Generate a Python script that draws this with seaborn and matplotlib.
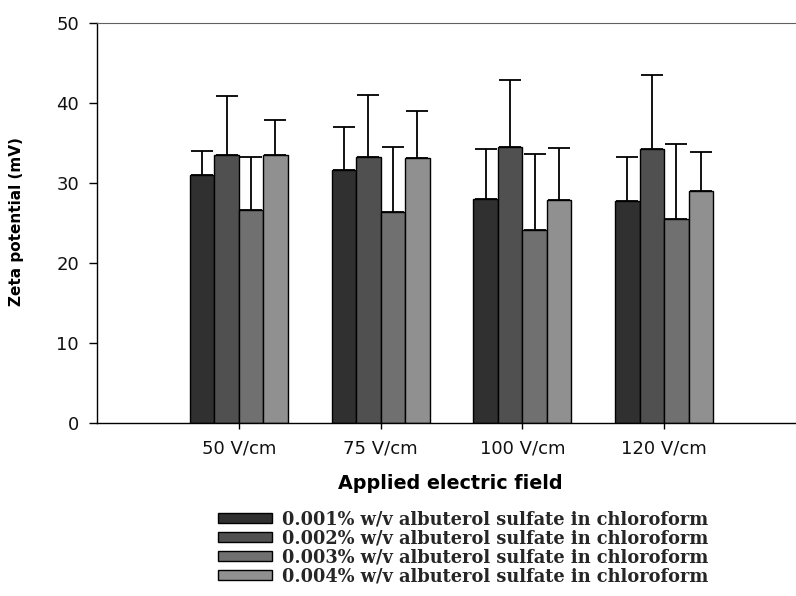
import numpy as np
import pandas as pd
import matplotlib
matplotlib.use("Agg")
import matplotlib.pyplot as plt
import seaborn as sns

fields = ["50 V/cm", "75 V/cm", "100 V/cm", "120 V/cm"]
concs = ["0.001% w/v albuterol sulfate in chloroform",
         "0.002% w/v albuterol sulfate in chloroform",
         "0.003% w/v albuterol sulfate in chloroform",
         "0.004% w/v albuterol sulfate in chloroform"]
# mean zeta potential (mV), one list per concentration, in field order
mean_001 = [30.9, 31.6, 28.0, 27.7]
mean_002 = [33.5, 33.2, 34.5, 34.2]
mean_003 = [26.6, 26.3, 24.1, 25.5]
mean_004 = [33.4, 33.1, 27.8, 28.9]
# standard deviation (upper error bar only)
sd_001 = [3.0, 5.4, 6.2, 5.5]
sd_002 = [7.3, 7.8, 8.3, 9.3]
sd_003 = [6.6, 8.1, 9.5, 9.4]
sd_004 = [4.4, 5.9, 6.5, 4.9]

means = [mean_001, mean_002, mean_003, mean_004]
sds = [sd_001, sd_002, sd_003, sd_004]
colors = ["#303030", "#505050", "#707070", "#909090"]

rows = []
for c, m in zip(concs, means):
    for f, v in zip(fields, m):
        rows.append({"field": f, "zeta": v, "conc": c})
df = pd.DataFrame(rows)

sns.set_style("ticks")
fig = plt.figure(figsize=(7.96, 5.96), dpi=100)
ax = fig.add_axes([0.1219, 0.2908, 0.8781, 0.6711])

sns.barplot(data=df, x="field", y="zeta", hue="conc", order=fields, hue_order=concs,
            palette=colors, width=0.69, gap=0, errorbar=None, saturation=1,
            edgecolor="black", linewidth=1, ax=ax)

for cont, sd in zip(ax.containers, sds):
    xs = [b.get_x() + b.get_width() / 2 for b in cont]
    ys = [b.get_height() for b in cont]
    ax.errorbar(xs, ys, yerr=[np.zeros(len(sd)), sd], fmt="none", ecolor="black",
                elinewidth=1.3, capsize=8, capthick=1.3, zorder=1)

handles, labels = ax.get_legend_handles_labels()
ax.get_legend().remove()
fig.legend(handles, labels, loc="upper left", bbox_to_anchor=(0.263, 0.159),
           frameon=False, borderpad=0, handlelength=3.0, handleheight=0.5,
           labelspacing=0.06, handletextpad=0.6,
           prop={"family": "DejaVu Serif", "weight": "bold", "size": 12.8})

ax.set_xlim(-1.0, 3.93)
ax.set_ylim(0, 50)
ax.set_yticks([0, 10, 20, 30, 40, 50])

ax.spines["right"].set_visible(False)
ax.spines["top"].set_color("#606060")
for s in ["left", "bottom"]:
    ax.spines[s].set_color("black")
    ax.spines[s].set_linewidth(1)

ax.tick_params(axis="y", length=6, width=1, pad=7, labelsize=13, color="black")
ax.tick_params(axis="x", length=4, width=1, pad=8, labelsize=13, color="black")
for t in ax.get_xticklabels() + ax.get_yticklabels():
    t.set_family("DejaVu Sans")
    t.set_color("#111111")

ax.set_xlabel("Applied electric field", family="DejaVu Sans", weight="bold", size=13.8,
              color="black")
ax.xaxis.set_label_coords(0.506, -0.128)
ax.set_ylabel("Zeta potential (mV)", family="DejaVu Sans", weight="bold", size=11,
              color="black")
ax.yaxis.set_label_coords(-0.104, 0.504)

fig.savefig("out.png", dpi=100)
